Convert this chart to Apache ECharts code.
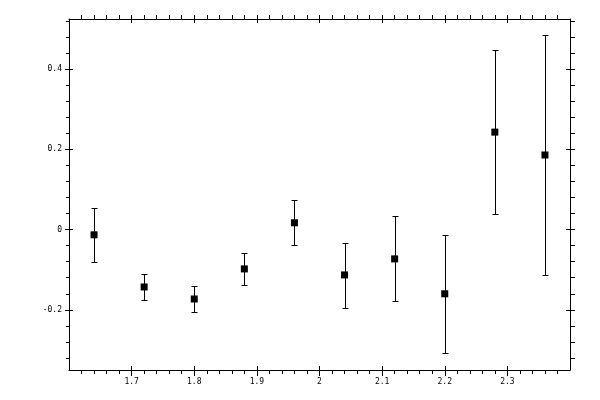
<!DOCTYPE html>
<html>
<head>
    <meta charset="utf-8">
    <script src="https://cdn.jsdelivr.net/npm/echarts@6/dist/echarts.min.js"></script>
</head>
<body style="margin:0;background:#fff">
    <div id="main" style="width: 600px;height:400px;"></div>
    <script type="text/javascript">
        // points with error bars
        var xValues = [1.64, 1.72, 1.80, 1.88, 1.96, 2.04, 2.12, 2.20, 2.28, 2.36];
        var yValues = [-0.013, -0.143, -0.173, -0.098, 0.017, -0.113, -0.073, -0.160, 0.243, 0.186];
        var yLow = [-0.080, -0.175, -0.205, -0.138, -0.038, -0.195, -0.178, -0.307, 0.039, -0.113];
        var yHigh = [0.053, -0.111, -0.141, -0.058, 0.074, -0.033, 0.034, -0.013, 0.447, 0.485];

        // tick positions
        var xMajor = [1.7, 1.8, 1.9, 2.0, 2.1, 2.2, 2.3];
        var yMajor = [-0.2, 0, 0.2, 0.4];
        function steps(a, b, s) {
            var out = [];
            for (var v = a; v <= b + s / 2; v += s) out.push(Math.round(v * 1000) / 1000);
            return out;
        }
        var xMinor = steps(1.62, 2.38, 0.02);
        var yMinor = steps(-0.32, 0.52, 0.04);

        var xMin = 1.6, xMax = 2.4, yMin = -0.35, yMax = 0.525;
        var font = 'DejaVu Sans Mono';

        function xAx(pos, ticks, len, inside, showLine, labels) {
            return {
                type: 'value', position: pos, min: xMin, max: xMax,
                splitLine: { show: false },
                axisLine: { show: showLine, onZero: false, lineStyle: { color: '#000', width: 1 } },
                axisTick: { show: true, inside: inside, length: len, customValues: ticks,
                    lineStyle: { color: '#000', width: 1 } },
                axisLabel: labels ? { show: true, customValues: xMajor, color: '#000',
                    fontFamily: font, fontSize: 8, margin: 8 } : { show: false }
            };
        }
        function yAx(pos, ticks, len, inside, showLine, labels) {
            return {
                type: 'value', position: pos, min: yMin, max: yMax,
                splitLine: { show: false },
                axisLine: { show: showLine, onZero: false, lineStyle: { color: '#000', width: 1 } },
                axisTick: { show: true, inside: inside, length: len, customValues: ticks,
                    lineStyle: { color: '#000', width: 1 } },
                axisLabel: labels ? { show: true, customValues: yMajor, color: '#000',
                    fontFamily: font, fontSize: 8, margin: 7 } : { show: false }
            };
        }

        var bars = xValues.map(function (x, i) { return [x, yLow[i], yHigh[i]]; });
        var pts = xValues.map(function (x, i) { return [x, yValues[i]]; });

        var myChart = echarts.init(document.getElementById('main'));
        var option = {
            animation: false,
            grid: { left: 69, right: 30, top: 19, bottom: 30 },
            xAxis: [
                xAx('bottom', xMajor, 6, false, true, true),
                xAx('bottom', xMajor, 4, true, false, false),
                xAx('bottom', xMinor, 4, false, false, false),
                xAx('top', xMajor, 4, false, true, false),
                xAx('top', xMajor, 4, true, false, false),
                xAx('top', xMinor, 4, false, false, false)
            ],
            yAxis: [
                yAx('left', yMajor, 4, false, true, true),
                yAx('left', yMajor, 4, true, false, false),
                yAx('left', yMinor, 3, false, false, false),
                yAx('right', yMajor, 5, false, true, false),
                yAx('right', yMajor, 4, true, false, false),
                yAx('right', yMinor, 5, false, false, false)
            ],
            series: [
                {
                    type: 'custom',
                    data: bars,
                    renderItem: function (params, api) {
                        var lo = api.coord([api.value(0), api.value(1)]);
                        var hi = api.coord([api.value(0), api.value(2)]);
                        var x = Math.round(lo[0]) + 0.5;
                        var y1 = Math.round(lo[1]) + 0.5;
                        var y2 = Math.round(hi[1]) + 0.5;
                        var w = 3;
                        var st = { stroke: '#000', lineWidth: 1 };
                        return {
                            type: 'group',
                            children: [
                                { type: 'line', shape: { x1: x, y1: y1, x2: x, y2: y2 }, style: st },
                                { type: 'line', shape: { x1: x - w, y1: y1, x2: x + w, y2: y1 }, style: st },
                                { type: 'line', shape: { x1: x - w, y1: y2, x2: x + w, y2: y2 }, style: st }
                            ]
                        };
                    },
                    z: 2
                },
                {
                    type: 'scatter',
                    data: pts,
                    symbol: 'rect',
                    symbolSize: 7,
                    itemStyle: { color: '#000', opacity: 1 },
                    z: 3
                }
            ]
        };
        myChart.setOption(option);
    </script>
</body>
</html>
